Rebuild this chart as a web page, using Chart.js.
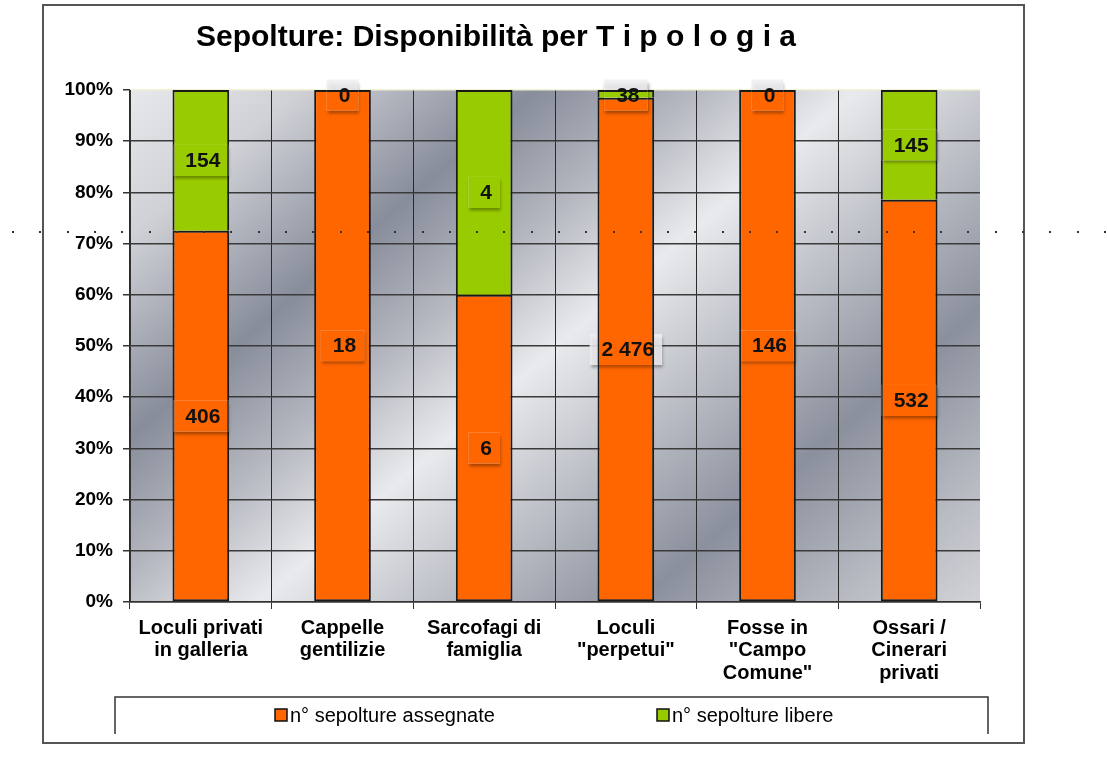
<!DOCTYPE html>
<html>
<head>
<meta charset="utf-8">
<title>Sepolture: Disponibilità per Tipologia</title>
<script src="https://cdn.jsdelivr.net/npm/chart.js@4.4.1/dist/chart.umd.min.js"></script>
<style>
  html, body { margin: 0; padding: 0; background: #fff; }
</style>
</head>
<body>
<canvas id="sepolture" width="1107" height="772"></canvas>
<script>
const categories = [
  ["Loculi privati", "in galleria"],
  ["Cappelle", "gentilizie"],
  ["Sarcofagi di", "famiglia"],
  ["Loculi", "\"perpetui\""],
  ["Fosse in", "\"Campo", "Comune\""],
  ["Ossari /", "Cinerari", "privati"]
];
const assegnate = [406, 18, 6, 2476, 146, 532];
const libere = [154, 0, 4, 38, 0, 145];
const seriesNames = ["n° sepolture assegnate", "n° sepolture libere"];
const seriesColors = ["#ff6600", "#99cc00"];
const yTicks = [0, 10, 20, 30, 40, 50, 60, 70, 80, 90, 100];
const titleText = "Sepolture: Disponibilità per T i p o l o g i a";

const FONT = "'Liberation Sans', Arial, sans-serif";
Chart.defaults.font.family = FONT;
Chart.defaults.color = "#000";

// share of each segment in its column (100% stacked)
const totals = assegnate.map((v, i) => v + libere[i]);
const pct = arr => arr.map((v, i) => v / totals[i] * 100);

function fmt(n) {
  return String(n).replace(/\B(?=(\d{3})+(?!\d))/g, " ");
}

// chrome-like gray background of the plot area
const plotBackground = {
  id: "plotBackground",
  beforeDraw(chart) {
    const { ctx, chartArea: a } = chart;
    ctx.save();
    ctx.fillStyle = "#fff";
    ctx.fillRect(0, 0, chart.width, chart.height);
    const g = ctx.createLinearGradient(98, 114, 716, 835);
    g.addColorStop(0, "#e8e9ec");
    g.addColorStop(0.12, "#cfd1d6");
    g.addColorStop(0.28, "#888d9b");
    g.addColorStop(0.39, "#b4b7bf");
    g.addColorStop(0.5, "#e9eaed");
    g.addColorStop(0.6, "#c4c7cd");
    g.addColorStop(0.76, "#8b909d");
    g.addColorStop(0.9, "#b8bbc2");
    g.addColorStop(1, "#d2d4d8");
    ctx.fillStyle = g;
    ctx.fillRect(a.left, a.top, a.right - a.left, a.bottom - a.top);
    ctx.restore();
  }
};

// value boxes in the middle of every segment
const valueLabels = {
  id: "valueLabels",
  afterDatasetsDraw(chart) {
    const { ctx, chartArea: a } = chart;
    const metas = chart.data.datasets.map((d, i) => chart.getDatasetMeta(i));
    const items = [];
    chart.data.datasets.forEach((ds, di) => {
      metas[di].data.forEach((el, i) => {
        const txt = fmt(ds.counts[i]);
        let cy = (el.y + el.base) / 2;
        cy = Math.max(cy, a.top + 5);
        items.push({ txt, cx: el.x, cy, i });
      });
    });
    ctx.save();
    ctx.font = "bold 21px " + FONT;
    items.forEach(it => {
      const w = ctx.measureText(it.txt).width + 20, h = 31;
      const x = it.cx - w / 2, y = it.cy - h / 2;
      ctx.save();
      ctx.shadowColor = "rgba(0,0,0,0.4)";
      ctx.shadowOffsetY = 3;
      ctx.shadowOffsetX = 1;
      ctx.shadowBlur = 3;
      ctx.fillStyle = "rgba(238,239,242,0.85)";
      ctx.fillRect(x, y, w, h);
      ctx.restore();
      // the box is almost clear where it lies on the bar
      ctx.save();
      ctx.beginPath();
      ctx.rect(x, y, w, h);
      ctx.clip();
      metas.forEach(m => m.data[it.i].draw(ctx));
      ctx.restore();
    });
    ctx.fillStyle = "#111";
    ctx.textAlign = "center";
    ctx.textBaseline = "middle";
    items.forEach(it => ctx.fillText(it.txt, it.cx + 2, it.cy + 1));
    ctx.restore();
  }
};

// title, legend box, outer frame, scan dots
const decorations = {
  id: "decorations",
  afterDraw(chart) {
    const { ctx } = chart;
    ctx.save();
    ctx.fillStyle = "#000";
    ctx.font = "bold 30px " + FONT;
    ctx.textAlign = "center";
    ctx.textBaseline = "middle";
    ctx.fillText(titleText, 496, 38);

    // legend
    ctx.strokeStyle = "#333";
    ctx.lineWidth = 1.5;
    ctx.beginPath();
    ctx.moveTo(115, 734);
    ctx.lineTo(115, 697);
    ctx.lineTo(988, 697);
    ctx.lineTo(988, 734);
    ctx.stroke();
    const legX = [275, 657];
    ctx.font = "20px " + FONT;
    ctx.textAlign = "left";
    chart.data.datasets.forEach((ds, i) => {
      ctx.fillStyle = ds.backgroundColor;
      ctx.fillRect(legX[i], 709, 12, 12);
      ctx.strokeStyle = "#111";
      ctx.lineWidth = 1.5;
      ctx.strokeRect(legX[i], 709, 12, 12);
      ctx.fillStyle = "#000";
      ctx.fillText(ds.label, legX[i] + 15, 716);
    });

    // outer frame
    ctx.strokeStyle = "#555";
    ctx.lineWidth = 2;
    ctx.strokeRect(43, 5, 981, 738);

    // dotted scan line
    ctx.fillStyle = "#333";
    for (let x = 12; x < chart.width; x += 27.3) {
      ctx.fillRect(Math.round(x), 231, 2, 2);
    }
    ctx.restore();
  }
};

new Chart(document.getElementById("sepolture"), {
  type: "bar",
  data: {
    labels: categories,
    datasets: [
      {
        label: seriesNames[0],
        data: pct(assegnate),
        counts: assegnate,
        backgroundColor: seriesColors[0],
        borderColor: "#1a1a1a",
        borderWidth: 2,
        borderSkipped: false
      },
      {
        label: seriesNames[1],
        data: pct(libere),
        counts: libere,
        backgroundColor: seriesColors[1],
        borderColor: "#1a1a1a",
        borderWidth: 2,
        borderSkipped: "bottom"
      }
    ]
  },
  options: {
    responsive: false,
    animation: false,
    categoryPercentage: 1,
    barPercentage: 0.4,
    layout: { padding: { top: 90, left: 50, right: 127, bottom: 75 } },
    scales: {
      x: {
        stacked: true,
        afterFit: s => { s.height = 95; },
        border: { display: true, color: "#333", width: 1.5 },
        grid: {
          offset: true,
          tickLength: 7,
          lineWidth: 1,
          color: c => (c.index === undefined ? "rgba(0,0,0,0)" : "#2a2a2a"),
          tickColor: "#333"
        },
        ticks: {
          font: { size: 20, weight: "bold", lineHeight: 1.13 },
          padding: 8,
          maxRotation: 0,
          autoSkip: false
        }
      },
      y: {
        stacked: true,
        min: 0,
        max: 100,
        afterFit: s => { s.width = 80; },
        afterBuildTicks: s => { s.ticks = yTicks.map(v => ({ value: v })); },
        border: { display: true, color: "#333", width: 1 },
        grid: {
          tickLength: 7,
          lineWidth: 1.5,
          color: c => (c.tick && c.tick.value === 100 ? "#f2f2d4" : "#3a3a3a"),
          tickColor: "#333"
        },
        ticks: {
          font: { size: 19, weight: "bold" },
          padding: 10,
          callback: v => v + "%"
        }
      }
    },
    plugins: {
      legend: { display: false },
      title: { display: false },
      tooltip: { enabled: false }
    }
  },
  plugins: [plotBackground, valueLabels, decorations]
});
</script>
</body>
</html>
